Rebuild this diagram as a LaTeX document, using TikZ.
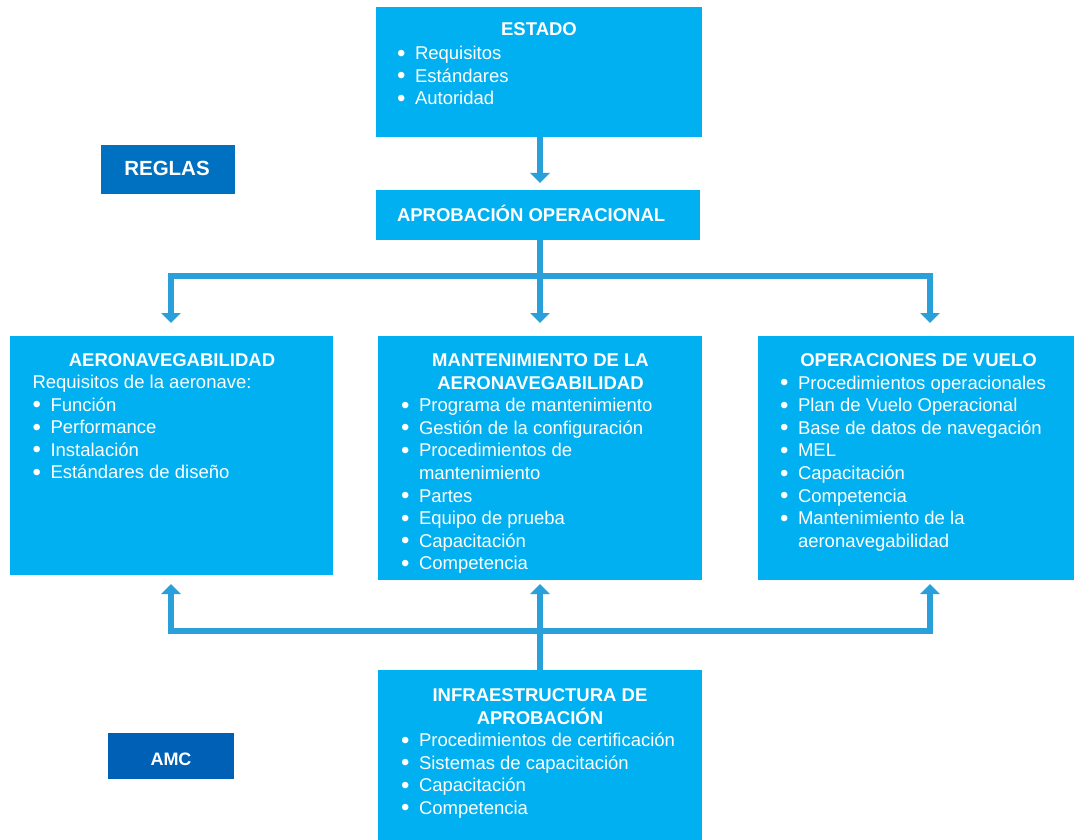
\documentclass[tikz,border=0pt]{standalone}
\usepackage{fontspec}
\setmainfont{Liberation Sans}
\usetikzlibrary{arrows.meta}
\definecolor{boxblue}{RGB}{0,176,240}
\definecolor{linkblue}{RGB}{41,160,218}
\definecolor{tagblue}{RGB}{0,112,192}
\definecolor{amcblue}{RGB}{0,96,181}
\newcommand\bodyfont{\fontsize{18.5}{22.6}\selectfont}
\newcommand\blt{\raisebox{-1.6pt}{\fontsize{24}{0}\selectfont\textbullet}}
\tikzset{
  box/.style={fill=boxblue, draw=none, inner sep=0pt, outer sep=0pt},
  tag/.style={draw=none, inner sep=0pt, outer sep=0pt},
  txt/.style={text=white, inner sep=0pt, outer sep=0pt, font=\bodyfont},
  head/.style={txt, font=\bodyfont\bfseries},
  link/.style={draw=linkblue, line width=6pt, line join=miter},
  arr/.style={link, -{Triangle[width=19pt,length=10pt]}}
}
\newenvironment{blist}{\begin{tabular}{@{}p{18pt}@{}l@{}}}{\end{tabular}}
\begin{document}
\begin{tikzpicture}[x=1pt,y=-1pt]
\useasboundingbox (0,0) rectangle (1074,840);

% boxes
\node[box, minimum width=326pt, minimum height=130pt] (estado) at (539,72) {};
\node[box, minimum width=324pt, minimum height=50pt] (aprob) at (538,215) {};
\node[box, minimum width=323pt, minimum height=239pt] (air) at (171.5,455.5) {};
\node[box, minimum width=324pt, minimum height=244pt] (mant) at (540,458) {};
\node[box, minimum width=316pt, minimum height=244pt] (ops) at (916,458) {};
\node[box, minimum width=324pt, minimum height=170pt] (infra) at (540,755) {};
\node[tag, fill=tagblue, minimum width=134pt, minimum height=49pt] (reglas) at (168,169.5) {};
\node[tag, fill=amcblue, minimum width=126pt, minimum height=46pt] (amc) at (171,756) {};

% tags
\node[txt, anchor=base, font=\fontsize{20.5}{24}\selectfont\bfseries] (reglasT) at (167,175.5) {REGLAS};
\node[txt, anchor=base, font=\fontsize{18}{20}\selectfont\bfseries] (amcT) at (171,765) {AMC};

% ESTADO
\node[head, anchor=base] (estadoH) at (539,36) {ESTADO};
\node[txt, anchor=north west] (estadoL) at (397,43.7) {\begin{blist}
\blt & Requisitos\\
\blt & Estándares\\
\blt & Autoridad
\end{blist}};

% APROBACIÓN OPERACIONAL
\node[head, anchor=base west] (aprobH) at (397,221.5) {APROBACIÓN OPERACIONAL};

% AERONAVEGABILIDAD
\node[head, anchor=base] (airH) at (172,366) {AERONAVEGABILIDAD};
\node[txt, anchor=north west] (airL) at (32.5,372.7) {\begin{blist}
\multicolumn{2}{@{}l@{}}{Requisitos de la aeronave:}\\
\blt & Función\\
\blt & Performance\\
\blt & Instalación\\
\blt & Estándares de diseño
\end{blist}};

% MANTENIMIENTO DE LA AERONAVEGABILIDAD
\node[head, anchor=north] (mantH) at (540.5,350.7) {\begin{tabular}{@{}c@{}}MANTENIMIENTO DE LA\\AERONAVEGABILIDAD\end{tabular}};
\node[txt, anchor=north west] (mantL) at (401,395.8) {\begin{blist}
\blt & Programa de mantenimiento\\
\blt & Gestión de la configuración\\
\blt & Procedimientos de\\
 & mantenimiento\\
\blt & Partes\\
\blt & Equipo de prueba\\
\blt & Capacitación\\
\blt & Competencia
\end{blist}};

% OPERACIONES DE VUELO
\node[head, anchor=base] (opsH) at (918.5,366) {OPERACIONES DE VUELO};
\node[txt, anchor=north west] (opsL) at (780,373.2) {\begin{blist}
\blt & Procedimientos operacionales\\
\blt & Plan de Vuelo Operacional\\
\blt & Base de datos de navegación\\
\blt & MEL\\
\blt & Capacitación\\
\blt & Competencia\\
\blt & Mantenimiento de la\\
 & aeronavegabilidad
\end{blist}};

% INFRAESTRUCTURA DE APROBACIÓN
\node[head, anchor=north] (infraH) at (540,685.7) {\begin{tabular}{@{}c@{}}INFRAESTRUCTURA DE\\APROBACIÓN\end{tabular}};
\node[txt, anchor=north west] (infraL) at (401,730.7) {\begin{blist}
\blt & Procedimientos de certificación\\
\blt & Sistemas de capacitación\\
\blt & Capacitación\\
\blt & Competencia
\end{blist}};

% connectors
\coordinate (tj) at (540,276);
\coordinate (tl) at (171,276);
\coordinate (tr) at (930,276);
\coordinate (bj) at (540,631);
\coordinate (bl) at (171,631);
\coordinate (br) at (930,631);

\draw[arr, shorten >=7pt] (estado.south -| tj) -- (aprob.north -| tj);
\draw[arr, shorten >=13pt] (aprob.south -| tj) -- (mant.north -| tj);
\draw[arr, shorten >=13pt] (tj) -- (tl) -- (tl |- air.north);
\draw[arr, shorten >=13pt] (tj) -- (tr) -- (tr |- ops.north);

\draw[arr, shorten >=4pt] (infra.north -| bj) -- (mant.south -| bj);
\draw[arr, shorten >=9pt] (bj) -- (bl) -- (bl |- air.south);
\draw[arr, shorten >=4pt] (bj) -- (br) -- (br |- ops.south);
\end{tikzpicture}
\end{document}
